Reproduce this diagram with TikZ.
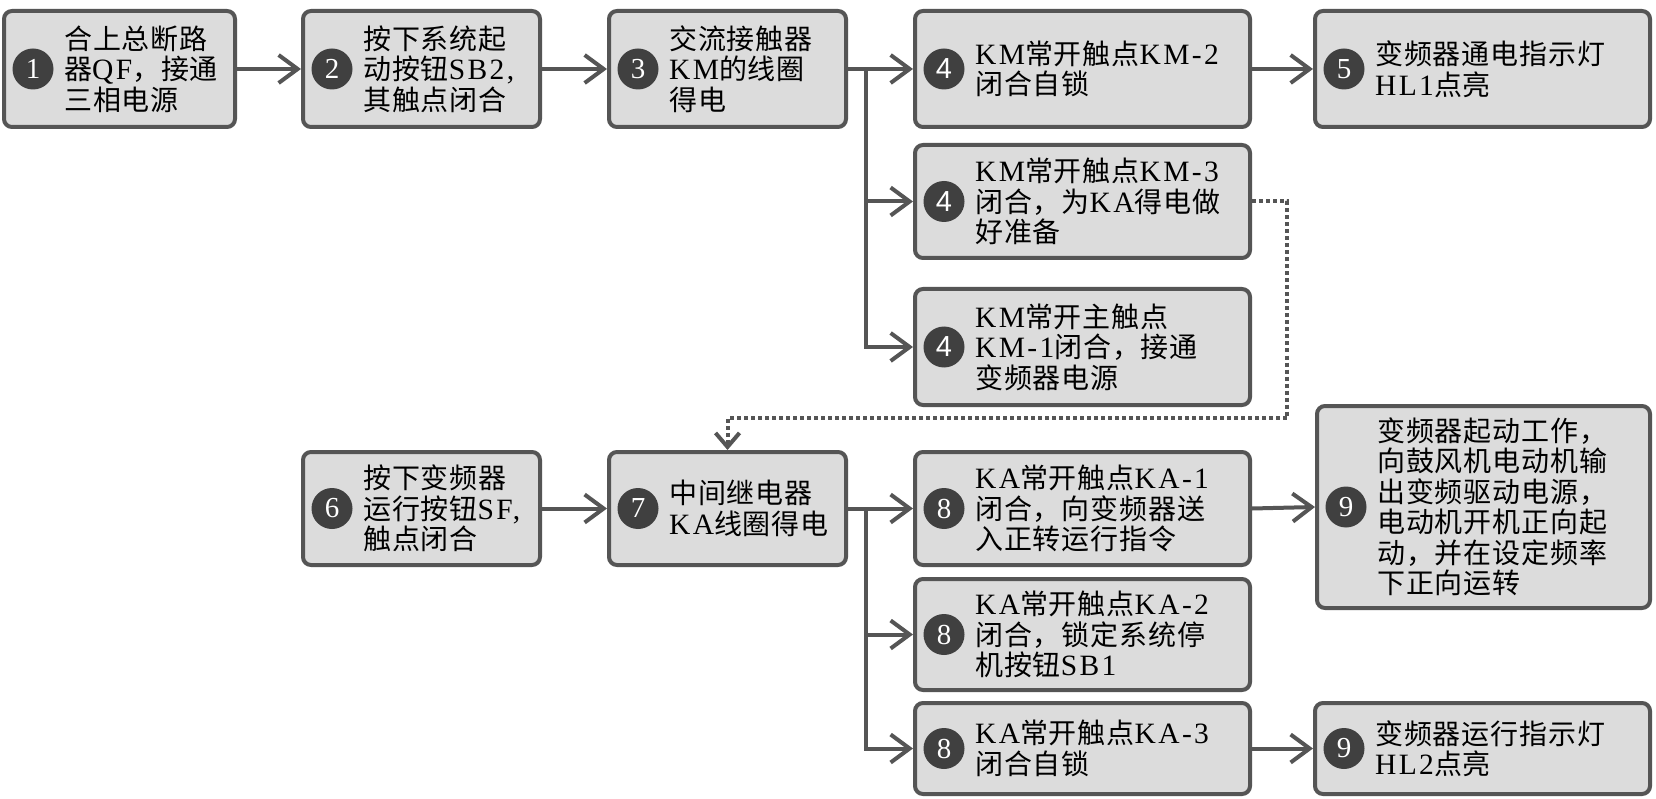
\documentclass[tikz,border=0pt]{standalone}
\usepackage{fontspec}
\setmainfont{Liberation Serif}[LetterSpace=8]
\newfontfamily\cjk{Noto Sans CJK SC}[LetterSpace=3]
\newfontfamily\numsans{Liberation Sans}
\newfontfamily\numserif{Liberation Serif}
\usetikzlibrary{arrows.meta}
\definecolor{boxfill}{RGB}{220,220,220}
\definecolor{edgegray}{RGB}{85,85,85}
\definecolor{dotgray}{RGB}{64,64,64}
\newcommand\C[1]{{\cjk #1}}
\newcommand\Lat[1]{{\fontsize{29.5}{30.5}\selectfont #1}}
\newcommand\flowbox[7]{%
  \node[box, minimum width={#4-#2-4}, minimum height={#5-#3-4}] (#1) at ({(#2+#4)/2},{(#3+#5)/2}) {};
  \node[num] (#1n) at ({#2+31},{(#3+#5)/2}) {#6};
  \node[txt] (#1t) at ({#2+62},{(#3+#5)/2}) {#7};
}
\begin{document}
\begin{tikzpicture}[x=1pt,y=-1pt,
  box/.style={draw=edgegray, line width=4pt, fill=boxfill, rounded corners=8pt, inner sep=0pt},
  num/.style={circle, fill=dotgray, text=white, minimum size=41pt, inner sep=0pt, font=\numserif\fontsize{29}{29}\selectfont},
  txt/.style={anchor=west, align=left, inner sep=0pt, font=\fontsize{28}{30.5}\selectfont},
  conn/.style={draw=edgegray, line width=4pt, -{Straight Barb[length=19pt,width=28pt]}},
  dotconn/.style={draw=edgegray, line width=4pt, dash pattern=on 4pt off 3pt, -{Straight Barb[length=14pt,width=24pt]}}
]
\useasboundingbox[fill=white] (0,0) rectangle (1656,799);

\flowbox{b1}{2}{9}{237}{129}{1}{\C{合上总断路}\\\C{器}\Lat{QF}\C{，接通}\\\C{三相电源}}
\flowbox{b2}{301}{9}{542}{129}{2}{\C{按下系统起}\\\C{动按钮}\Lat{SB2,}\\\C{其触点闭合}}
\flowbox{b3}{607}{9}{848}{129}{3}{\C{交流接触器}\\\Lat{KM}\C{的线圈}\\\C{得电}}
\flowbox{b4a}{913}{9}{1252}{129}{\numsans 4}{\Lat{KM}\C{常开触点}\Lat{KM-2}\\\C{闭合自锁}}
\flowbox{b5}{1313}{9}{1652}{129}{5}{\C{变频器通电指示灯}\\\Lat{HL1}\C{点亮}}
\flowbox{b4b}{913}{143}{1252}{260}{\numsans 4}{\Lat{KM}\C{常开触点}\Lat{KM-3}\\\C{闭合，为}\Lat{KA}\C{得电做}\\\C{好准备}}
\flowbox{b4c}{913}{287}{1252}{407}{\numsans 4}{\Lat{KM}\C{常开主触点}\\\Lat{KM-1}\C{闭合，接通}\\\C{变频器电源}}
\flowbox{b6}{301}{450}{542}{567}{6}{\C{按下变频器}\\\C{运行按钮}\Lat{SF,}\\\C{触点闭合}}
\flowbox{b7}{607}{450}{848}{567}{7}{\C{中间继电器}\\\Lat{KA}\C{线圈得电}}
\flowbox{b8a}{913}{450}{1252}{567}{8}{\Lat{KA}\C{常开触点}\Lat{KA-1}\\\C{闭合，向变频器送}\\\C{入正转运行指令}}
\flowbox{b9a}{1315}{404}{1652}{610}{9}{\C{变频器起动工作，}\\\C{向鼓风机电动机输}\\\C{出变频驱动电源，}\\\C{电动机开机正向起}\\\C{动，并在设定频率}\\\C{下正向运转}}
\flowbox{b8b}{913}{577}{1252}{692}{8}{\Lat{KA}\C{常开触点}\Lat{KA-2}\\\C{闭合，锁定系统停}\\\C{机按钮}\Lat{SB1}}
\flowbox{b8c}{913}{701}{1252}{796}{8}{\Lat{KA}\C{常开触点}\Lat{KA-3}\\\C{闭合自锁}}
\flowbox{b9b}{1313}{701}{1652}{796}{9}{\C{变频器运行指示灯}\\\Lat{HL2}\C{点亮}}

\coordinate (j1) at (866,69);
\coordinate (j2) at (866,508.5);
\coordinate (d1) at (1287,418);

\draw[conn] (b1.east) -- (b2.west);
\draw[conn] (b2.east) -- (b3.west);
\draw[conn] (b3.east) -- (b4a.west);
\draw[conn] (j1) |- (b4b.west);
\draw[conn] (j1) |- (b4c.west);
\draw[conn] (b4a.east) -- (b5.west);
\draw[dotconn] (b4b.east) -| (d1) -| (b7.north);
\draw[conn] (b6.east) -- (b7.west);
\draw[conn] (b7.east) -- (b8a.west);
\draw[conn] (j2) |- (b8b.west);
\draw[conn] (j2) |- (b8c.west);
\draw[conn] (b8a.east) -- (b9a.west);
\draw[conn] (b8c.east) -- (b9b.west);
\end{tikzpicture}
\end{document}
